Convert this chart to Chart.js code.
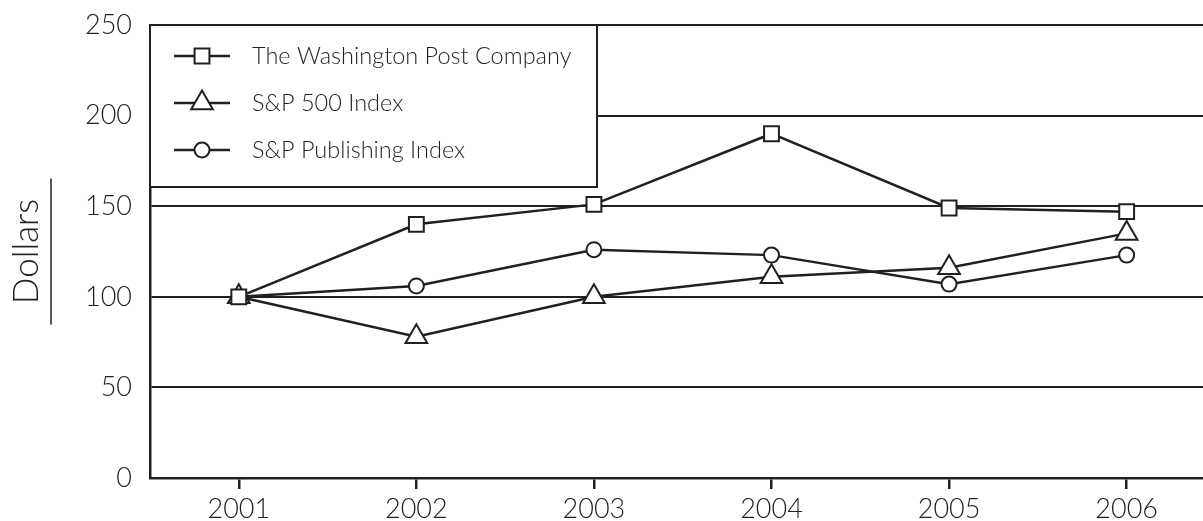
<!DOCTYPE html>
<html>
<head>
<meta charset="utf-8">
<script src="https://cdn.jsdelivr.net/npm/chart.js@4.4.1/dist/chart.umd.min.js"></script>
<style>
html, body { margin: 0; padding: 0; background: #fff; overflow: hidden; }
#wrap { position: relative; width: 1203px; height: 521px; }
canvas { display: block; }
</style>
</head>
<body>
<div id="wrap"><canvas id="stock-chart"></canvas></div>
<script>
// Value of $100 invested at the end of 2001
const years = [2001, 2002, 2003, 2004, 2005, 2006];
const washingtonPost = [100, 140, 151, 190, 149, 147];
const sp500 = [100, 78, 100, 111, 116, 135];
const spPublishing = [100, 106, 126, 123, 107, 123];
const seriesNames = ['The Washington Post Company', 'S&P 500 Index', 'S&P Publishing Index'];

const ink = '#231f20';
const fontFamily = 'Lato, "DejaVu Sans", sans-serif';
Chart.defaults.color = ink;
Chart.defaults.font.family = fontFamily;
Chart.defaults.font.weight = '300';

function points(values) {
    return years.map((yr, i) => ({ x: yr, y: values[i] }));
}

function lineSet(label, values, style, radius) {
    return {
        label: label,
        data: points(values),
        borderColor: ink,
        borderWidth: 2.5,
        pointStyle: style,
        pointRadius: radius,
        pointHoverRadius: radius,
        pointBorderWidth: 2,
        pointBackgroundColor: '#fff',
        pointBorderColor: ink,
        tension: 0
    };
}

// boxed legend sitting in the top-left corner of the plot
const boxLegend = {
    id: 'boxLegend',
    afterLayout(chart) {
        // let the plot run right up to the canvas edge like the original
        const area = chart.chartArea;
        const xs = chart.scales.x;
        area.right = chart.width;
        area.width = area.right - area.left;
        xs.right = chart.width;
        xs.width = xs.right - xs.left;
        xs.configure();
    },
    beforeDatasetsDraw(chart) {
        const ctx = chart.ctx;
        const area = chart.chartArea;
        const w = 447, h = 162;
        ctx.save();
        ctx.fillStyle = '#fff';
        ctx.fillRect(area.left, area.top, w, h);
        ctx.strokeStyle = ink;
        ctx.lineWidth = 2;
        ctx.strokeRect(area.left, area.top, w, h);
        chart.data.datasets.forEach((ds, i) => {
            const y = area.top + 31 + i * 47;
            const x0 = area.left + 24;
            ctx.strokeStyle = ink;
            ctx.lineWidth = 2.5;
            ctx.beginPath();
            ctx.moveTo(x0, y);
            ctx.lineTo(x0 + 56, y);
            ctx.stroke();
            ctx.fillStyle = '#fff';
            ctx.lineWidth = 2;
            Chart.helpers.drawPoint(ctx, {
                pointStyle: ds.pointStyle,
                radius: ds.pointRadius,
                borderWidth: 2,
                rotation: 0
            }, x0 + 28, y);
            ctx.fillStyle = ink;
            ctx.font = '300 23.5px ' + fontFamily;
            ctx.textBaseline = 'middle';
            ctx.textAlign = 'left';
            ctx.fillText(ds.label, area.left + 102, y);
        });
        ctx.restore();
    },
    afterDraw(chart) {
        // rule beside the rotated "Dollars" title
        const ctx = chart.ctx;
        const area = chart.chartArea;
        const cy = (area.top + area.bottom) / 2;
        ctx.save();
        ctx.strokeStyle = ink;
        ctx.lineWidth = 1.5;
        ctx.beginPath();
        ctx.moveTo(51, cy - 73);
        ctx.lineTo(51, cy + 73);
        ctx.stroke();
        ctx.restore();
    }
};

const config = {
    type: 'line',
    data: {
        datasets: [
            lineSet(seriesNames[0], washingtonPost, 'rect', 10.5),
            lineSet(seriesNames[1], sp500, 'triangle', 12.5),
            lineSet(seriesNames[2], spPublishing, 'circle', 7.5)
        ]
    },
    options: {
        responsive: true,
        maintainAspectRatio: false,
        animation: false,
        layout: {
            padding: { top: 25, right: 0, bottom: 0, left: 0 }
        },
        plugins: {
            legend: { display: false },
            tooltip: { enabled: false }
        },
        scales: {
            x: {
                type: 'linear',
                min: 2000.5,
                max: 2006.43,
                afterFit(scale) {
                    scale.height = 43;
                    scale.paddingLeft = 0;
                    scale.paddingRight = 0;
                },
                border: { color: ink, width: 2.5 },
                grid: { drawOnChartArea: false, drawTicks: true, tickLength: 11, color: ink, lineWidth: 2.5 },
                ticks: {
                    stepSize: 1,
                    includeBounds: false,
                    autoSkip: false,
                    maxRotation: 0,
                    padding: 4,
                    font: { size: 27 },
                    callback: v => String(v)
                }
            },
            y: {
                min: 0,
                max: 250,
                afterFit(scale) {
                    scale.width = 150;
                    scale.paddingTop = 0;
                    scale.paddingBottom = 0;
                },
                border: { color: ink, width: 2.5 },
                grid: { color: ink, lineWidth: 2, drawTicks: false },
                ticks: { stepSize: 50, padding: 18, font: { size: 27 } },
                title: {
                    display: true,
                    text: 'Dollars',
                    font: { size: 35 },
                    padding: { top: 6, bottom: 0 }
                }
            }
        }
    },
    plugins: [boxLegend]
};

const stockChart = new Chart(
    document.getElementById('stock-chart'),
    config
);
</script>
</body>
</html>
